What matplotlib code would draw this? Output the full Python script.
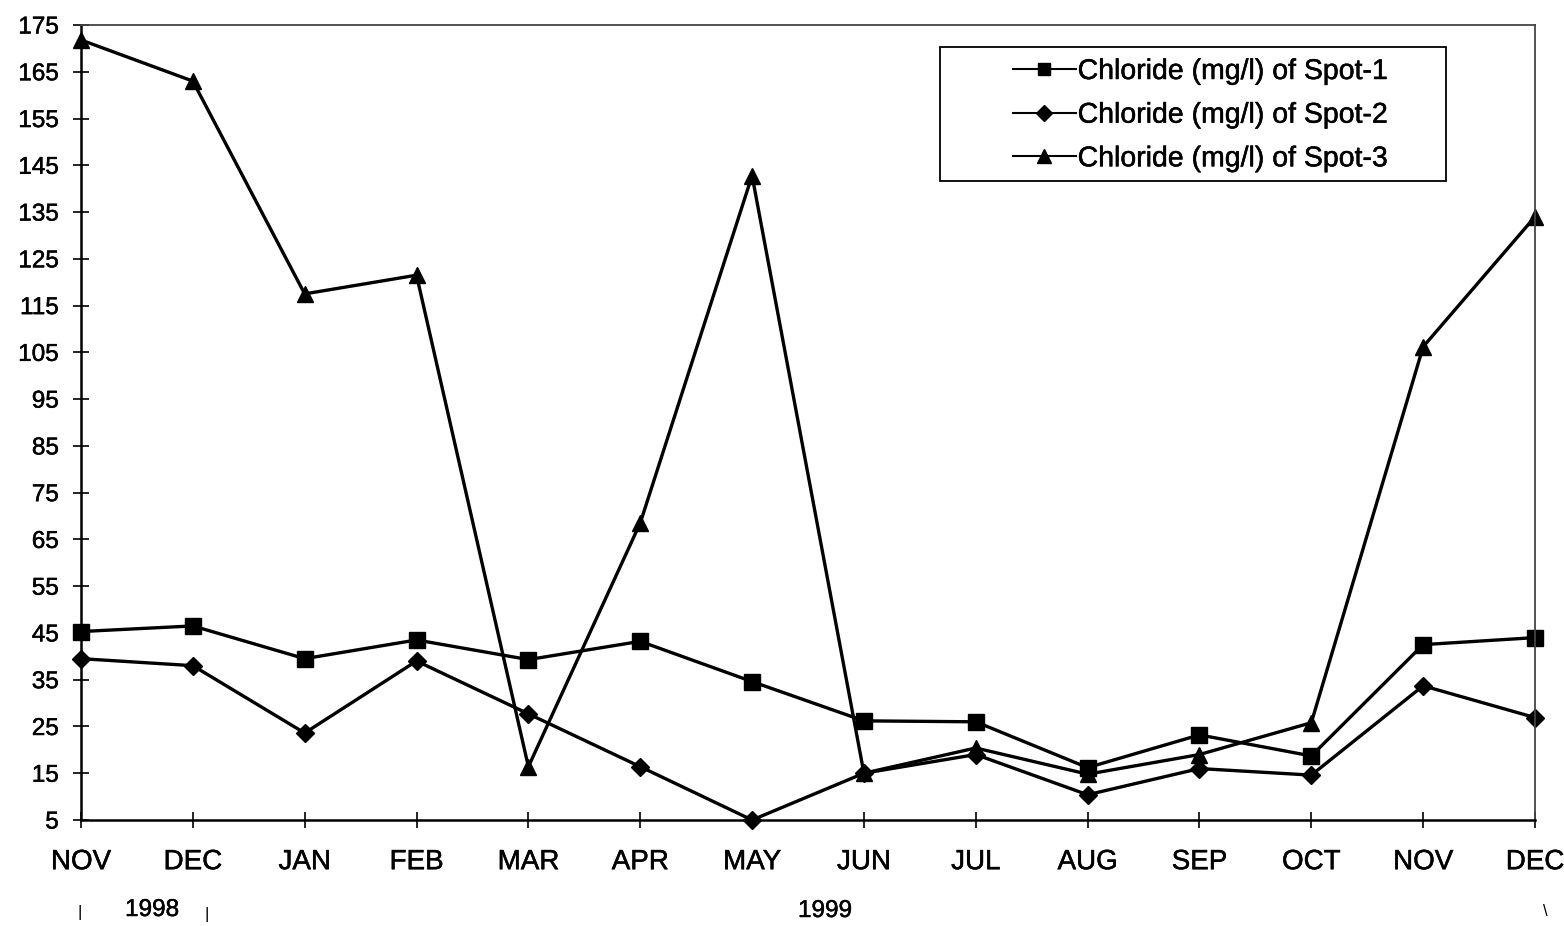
import numpy as np
import matplotlib
matplotlib.use('Agg')
import matplotlib.pyplot as plt
import matplotlib.patheffects as pe
from matplotlib.patches import Rectangle

plt.rcParams['font.family'] = ['Liberation Sans', 'DejaVu Sans']

months = ['NOV', 'DEC', 'JAN', 'FEB', 'MAR', 'APR', 'MAY', 'JUN',
          'JUL', 'AUG', 'SEP', 'OCT', 'NOV', 'DEC']
spot1 = [45.3, 46.5, 39.5, 43.5, 39.3, 43.2, 34.6, 26.2, 26.0, 16.2, 23.2, 18.7, 42.5, 44.0]
spot2 = [39.5, 38.0, 23.6, 39.0, 27.7, 16.4, 5.0, 15.0, 19.0, 10.4, 16.0, 14.6, 33.7, 26.9]
spot3 = [171.8, 163.0, 117.5, 121.5, 16.4, 68.5, 142.8, 15.0, 20.4, 14.8, 19.0, 25.8, 106.2, 134.0]
yticks = list(range(5, 176, 10))
labels = ['Chloride (mg/l) of Spot-1', 'Chloride (mg/l) of Spot-2', 'Chloride (mg/l) of Spot-3']

W, H = 1564, 926
fig = plt.figure(figsize=(W / 100, H / 100), dpi=100)
ax = fig.add_axes([81 / W, 1 - 820 / H, (1535 - 81) / W, (820 - 25) / H])

heavy = [pe.withStroke(linewidth=0.35, foreground='black')]

x = np.arange(len(months))
ax.plot(x, spot1, color='black', lw=2.4, marker='s', ms=11, label=labels[0], clip_on=False)
ax.plot(x, spot2, color='black', lw=2.4, marker='D', ms=9, label=labels[1], clip_on=False)
ax.plot(x, spot3, color='black', lw=2.4, marker='^', ms=12, label=labels[2], clip_on=False)

ax.set_xlim(0, 13)
ax.set_ylim(5, 175)
ax.set_yticks(yticks)
ax.set_xticks(x)
ax.set_xticklabels(months)
ax.tick_params(axis='both', direction='inout', length=12, width=1.2, colors='black')
ax.tick_params(axis='x', pad=15, labelsize=20)
ax.tick_params(axis='y', pad=10, labelsize=17.5)
for t in ax.get_xticklabels() + ax.get_yticklabels():
    t.set_path_effects(heavy)

for s in ['left', 'bottom']:
    ax.spines[s].set_linewidth(1.8)
for s in ['top', 'right']:
    ax.spines[s].set_linewidth(1.3)
    ax.spines[s].set_color('#444444')

# legend: frame drawn separately so the inner padding matches
fig.patches.append(Rectangle((940 / W, 1 - 181 / H), 506 / W, 134 / H,
                             transform=fig.transFigure, fill=False,
                             edgecolor='black', lw=1.3))
leg = fig.legend(*ax.get_legend_handles_labels(), loc='upper left',
                 bbox_to_anchor=(1013 / W, 1 - 59 / H), fontsize=20.5,
                 frameon=False, handlelength=2.2, handletextpad=0.07,
                 labelspacing=0.62, borderpad=0, borderaxespad=0, markerscale=0.85)
for h in leg.get_lines():
    h.set_linewidth(1.5)
for t in leg.get_texts():
    t.set_path_effects(heavy)

# year labels below the months
fig.text(152 / W, 1 - 910 / H, '1998', fontsize=17.5, ha='center', va='center', path_effects=heavy)
fig.text(825 / W, 1 - 911 / H, '1999', fontsize=17.5, ha='center', va='center', path_effects=heavy)
fig.text(80 / W, 1 - 913 / H, '|', fontsize=12, ha='center', va='center')
fig.text(207 / W, 1 - 915 / H, '|', fontsize=12, ha='center', va='center')
fig.text(1545 / W, 1 - 912 / H, '\\', fontsize=12, ha='center', va='center')

fig.savefig('out.png', dpi=100)
